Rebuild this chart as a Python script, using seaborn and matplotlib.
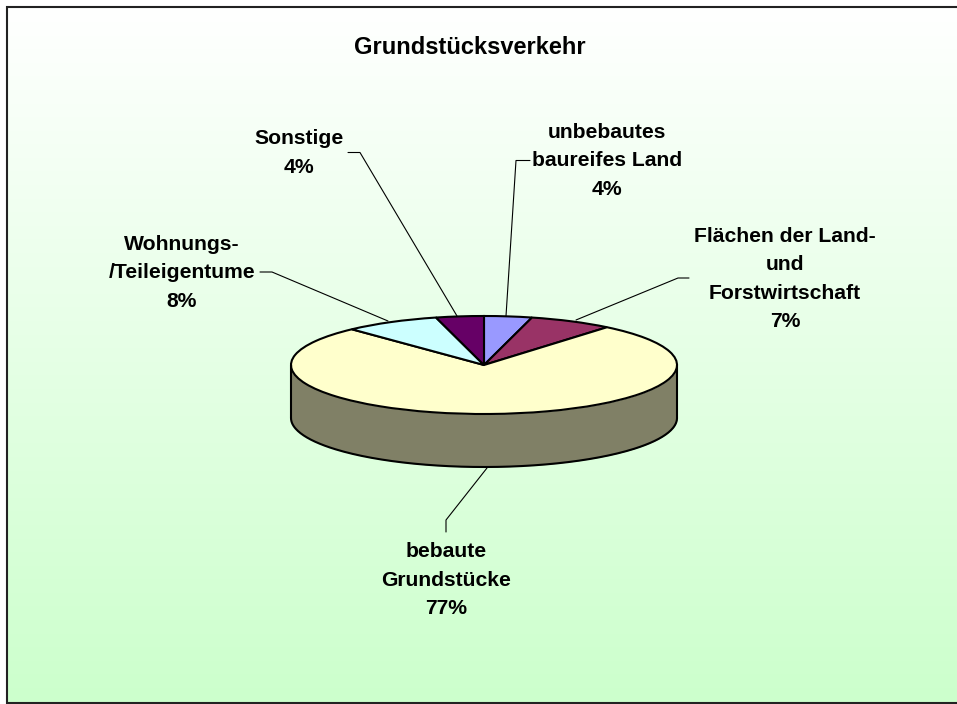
import numpy as np
import matplotlib.pyplot as plt
import seaborn as sns
from matplotlib.colors import LinearSegmentedColormap

# Werte
kategorien = ['unbebautes\nbaureifes Land', 'Flächen der Land-\nund\nForstwirtschaft', 'bebaute\nGrundstücke',
              'Wohnungs-\n/Teileigentume', 'Sonstige']
anteile = [4, 7, 77, 8, 4]
farben = ['#9999FF', '#993366', '#FFFFCC', '#CCFFFF', '#660066']
seitenfarbe = '#808066'
titel = 'Grundstücksverkehr'

sns.set_theme(style='white')
plt.rcParams['font.family'] = ['Liberation Sans', 'DejaVu Sans']

B, H = 957, 704
fig = plt.figure(figsize=(B / 100, H / 100), dpi=100)

# Hintergrund in Pixelkoordinaten
bg = fig.add_axes([0, 0, 1, 1])
verlauf = LinearSegmentedColormap.from_list('verlauf', ['#FFFFFF', '#CCFFCC'])
bg.imshow(np.linspace(0, 1, 256).reshape(-1, 1), cmap=verlauf, aspect='auto', extent=(7, B, 703, 7))
bg.set_xlim(0, B)
bg.set_ylim(H, 0)
bg.axis('off')
bg.plot([B, 7, 7, B], [7, 7, 703, 703], color='#222222', lw=1.5, clip_on=False, solid_joinstyle='miter')

# Beschriftungen: Position der Textmitte
positionen = [(607, 161), (785, 279), (446, 580), (182, 273), (299, 153)]
for name, wert, (x, y) in zip(kategorien, anteile, positionen):
    bg.text(x, y, f'{name}\n{wert}%', ha='center', va='center', multialignment='center',
            fontsize=15.2, fontweight='bold', color='black', linespacing=1.62)
bg.text(470, 47, titel, ha='center', va='center', fontsize=17, fontweight='bold', color='black')

# Führungslinien
linien = [
    ([530, 516, 506], [160.5, 160.5, 316]),
    ([689, 678, 576], [278, 278, 320]),
    ([446, 446, 487], [532, 520, 468]),
    ([260, 272, 388], [272, 272, 321]),
    ([348, 360, 457], [152.5, 152.5, 316]),
]
for xs, ys in linien:
    bg.plot(xs, ys, color='black', lw=0.8)

# Torte als flache Ellipse
rx, ry, tiefe = 193, 49, 53
cx, cy = 484, 365
ax = fig.add_axes([(cx - rx) / B, 1 - (cy + ry) / H, 2 * rx / B, 2 * ry / H])
ax.patch.set_visible(False)

t = np.linspace(np.pi, 2 * np.pi, 200)
d = tiefe / ry
ax.fill_between(np.cos(t), np.sin(t), np.sin(t) - d, color=seitenfarbe, lw=0, clip_on=False)
ax.plot(np.cos(t), np.sin(t) - d, color='black', lw=1.5, clip_on=False)
ax.plot([-1, -1], [0, -d], color='black', lw=1.5, clip_on=False)
ax.plot([1, 1], [0, -d], color='black', lw=1.5, clip_on=False)

wedges, _ = ax.pie(anteile, colors=sns.color_palette(farben), startangle=90, counterclock=False,
                   wedgeprops={'edgecolor': 'black', 'linewidth': 1.5, 'clip_on': False})
ax.set_aspect('auto')
ax.set_xlim(-1, 1)
ax.set_ylim(-1, 1)
ax.axis('off')

fig.savefig('out.png', dpi=100)
